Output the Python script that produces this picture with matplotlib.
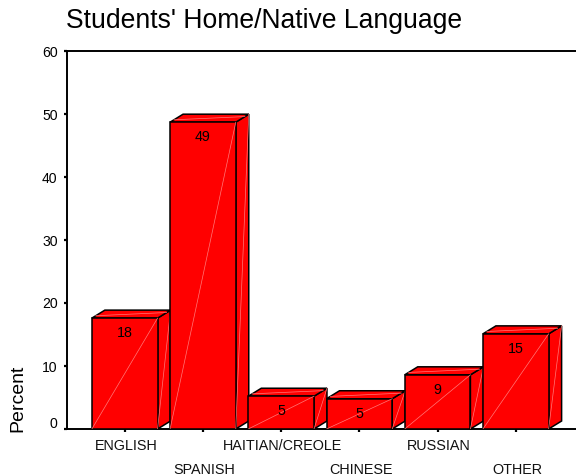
import matplotlib
matplotlib.use("Agg")
import matplotlib.pyplot as plt
from matplotlib.patches import Polygon
from matplotlib.transforms import ScaledTranslation

plt.rcParams['font.family'] = ['Liberation Sans', 'DejaVu Sans']

title = "Students' Home/Native Language"
ylabel = "Percent"
categories = ["ENGLISH", "SPANISH", "HAITIAN/CREOLE", "CHINESE", "RUSSIAN", "OTHER"]
values = [17.6, 48.7, 5.2, 4.8, 8.6, 15.1]
labels = ["18", "49", "5", "5", "9", "15"]
yticks = [0, 10, 20, 30, 40, 50, 60]

W, H = 576, 476
fig = plt.figure(figsize=(W / 100, H / 100), dpi=100)
ax = fig.add_axes([67 / W, (H - 429) / H, (W - 67) / W, 378 / H])
ax.set_xlim(-0.738, 5.77)
ax.set_ylim(0, 60)

width = 0.84
dx = 0.166
dy = 1.27
edge = "black"
face = "#ff0000"
diag = "#ff7a7a"
lw = 1.1

for i, v in enumerate(values):
    l, r = i - width / 2, i + width / 2
    ax.add_patch(Polygon([(r, 0), (r + dx, dy), (r + dx, v + dy), (r, v)],
                         fc=face, ec=edge, lw=lw, zorder=3 + i * 0.1, clip_on=False))
    ax.add_patch(Polygon([(l, v), (l + dx, v + dy), (r + dx, v + dy), (r, v)],
                         fc=face, ec=edge, lw=lw, zorder=3 + i * 0.1, clip_on=False))
    ax.bar(i, v, width=width, color=face, edgecolor=edge, linewidth=lw, zorder=3 + i * 0.1 + 0.01)
    z = 3 + i * 0.1 + 0.02
    ax.plot([l, r], [0, v], color=diag, lw=0.5, zorder=z)
    ax.plot([r, r + dx], [0, v + dy], color=diag, lw=0.5, zorder=z)
    ax.plot([l + dx * 0.3, r + dx * 0.7], [v + dy * 0.3, v + dy * 0.7], color=diag, lw=0.5, zorder=z)
    ax.annotate(labels[i], (i, v), xytext=(0, -15 * 0.72), textcoords="offset points",
                ha="center", va="center", fontsize=10.3, color="black", zorder=z + 0.01)

ax.spines["right"].set_visible(False)
for s in ("left", "bottom", "top"):
    ax.spines[s].set_linewidth(1.4)

ax.set_yticks(yticks)
ax.set_yticklabels([str(t) for t in yticks], fontsize=10.1)
ax.tick_params(axis="y", length=2.5, width=1.6, pad=4.3)
ax.set_xticks(range(len(categories)))
ax.set_xticklabels([])
ax.tick_params(axis="x", length=2.5, width=1.6)
zero_label = ax.get_yticklabels()[0]
zero_label.set_transform(zero_label.get_transform() + ScaledTranslation(0, 6 / 100, fig.dpi_scale_trans))

for i, c in enumerate(categories):
    off = -17 if i % 2 == 0 else -41
    ax.annotate(c, (i, 0), xytext=(1.5 * 0.72, off * 0.72), textcoords="offset points",
                ha="center", va="center", fontsize=10.4, color="#111111", annotation_clip=False)

fig.text(18 / W, (H - 398.5) / H, ylabel, rotation=90, ha="center", va="center", fontsize=14)
fig.text(66 / W, (H - 28) / H, title, ha="left", va="baseline", fontsize=19.1)

fig.savefig("out.png", dpi=100)
